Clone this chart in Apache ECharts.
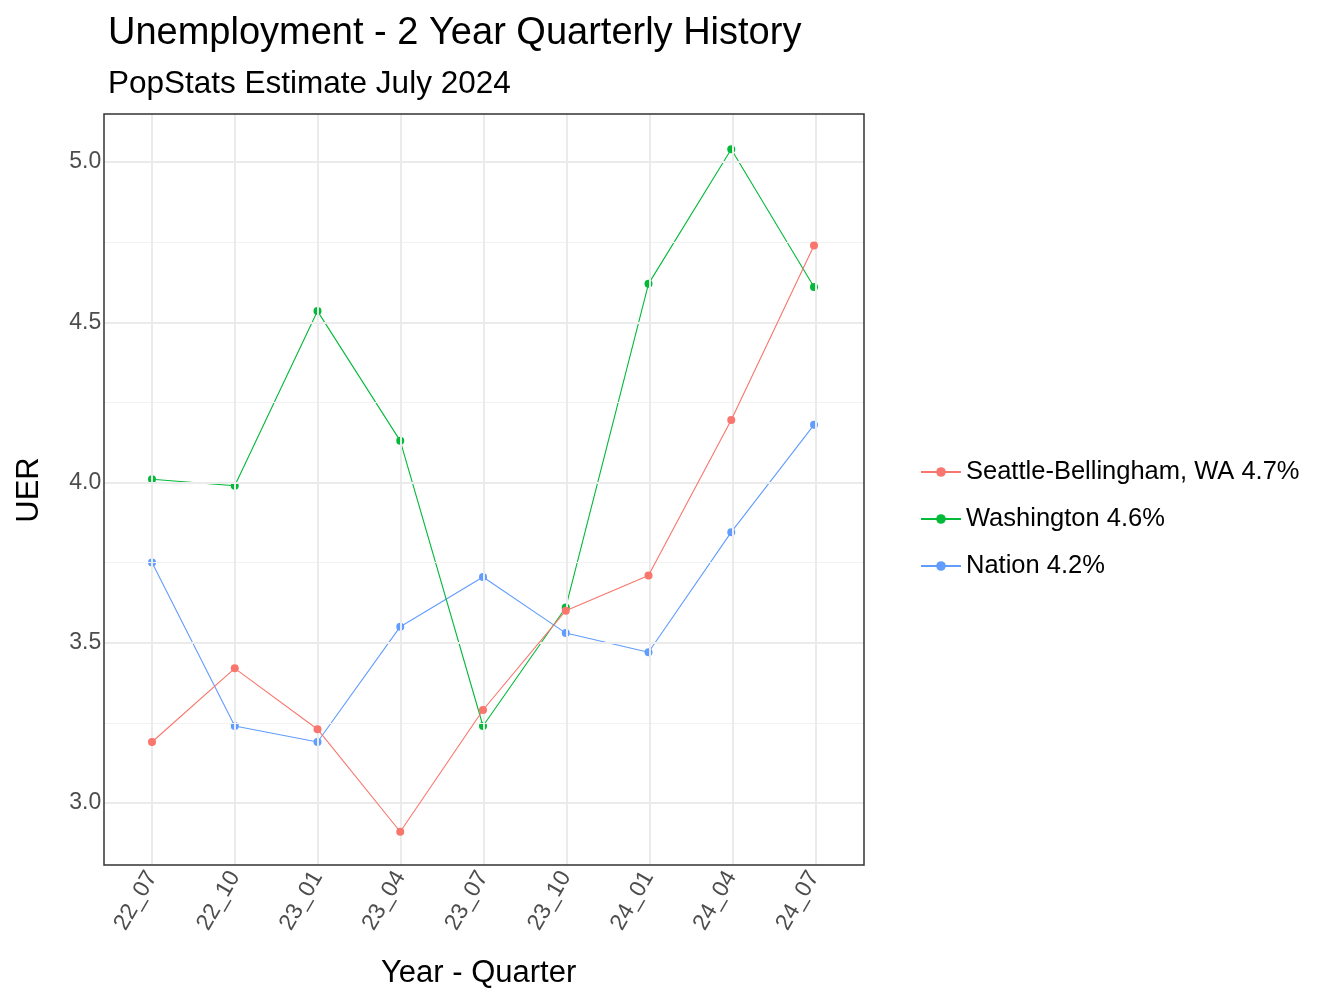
<!DOCTYPE html>
<html><head><meta charset="utf-8">
<script src="https://cdn.jsdelivr.net/npm/echarts@6/dist/echarts.min.js"></script>
<style>html,body{margin:0;padding:0;background:#fff}#c{width:1344px;height:1008px}</style>
</head><body><div id="c"></div>
<script>
const categories = ['22_07','22_10','23_01','23_04','23_07','23_10','24_01','24_04','24_07'];
const seattle = [3.19,3.42,3.23,2.91,3.29,3.60,3.71,4.195,4.74];
const washington = [4.01,3.99,4.535,4.13,3.24,3.61,4.62,5.04,4.61];
const nation = [3.75,3.24,3.19,3.55,3.705,3.53,3.47,3.845,4.18];
const names = ['Seattle-Bellingham, WA 4.7%','Washington 4.6%','Nation 4.2%'];
const majorY = [3.0,3.5,4.0,4.5,5.0];
const minorY = [3.25,3.75,4.25,4.75];
const colors = ['#F8766D','#00BA38','#619CFF'];
const F = 'Liberation Sans, Arial, sans-serif';
const chart = echarts.init(document.getElementById('c'));
const mk = (arr,i)=>({name:names[i],type:'line',data:arr.map((v,k)=>[k,v]),symbol:'circle',symbolSize:8,
  color:colors[i],lineStyle:{width:1.1,color:colors[i]},itemStyle:{color:colors[i]},z:5-i});
const gl = (w,c)=>({symbol:'none',silent:true,label:{show:false},lineStyle:{type:'solid',width:w,color:c}});
chart.setOption({
  animation:false,
  title:[{text:'Unemployment - 2 Year Quarterly History',left:103,top:10,textStyle:{fontFamily:F,fontSize:38,fontWeight:'normal',color:'#000'}},
         {text:'PopStats Estimate July 2024',left:103,top:63,textStyle:{fontFamily:F,fontSize:31.5,fontWeight:'normal',color:'#000'}}],
  grid:[{left:69.25,width:827.5,top:82,height:801},{left:104,width:760,top:114,height:751}],
  xAxis:[{type:'value',min:-1,max:9,interval:1,offset:-18,
    axisLine:{show:false},axisTick:{show:false},splitLine:{show:false},
    axisLabel:{fontFamily:F,fontSize:23,color:'#4d4d4d',rotate:60,margin:8,
      formatter:v=>(v>=0&&v<=8)?categories[v]:''}},
    {gridIndex:1,type:'value',min:-0.58,max:8.58,show:false,splitLine:{show:false}}],
  yAxis:[{type:'value',min:2.75,max:5.25,interval:0.25,offset:-40,
    axisLine:{show:false},axisTick:{show:false},splitLine:{show:false},
    axisLabel:{fontFamily:F,fontSize:23,color:'#4d4d4d',margin:8,
      formatter:v=>{const r=Math.round(v*100);return (r%50===0&&v>2.8&&v<5.2)?v.toFixed(1):'';}}},
    {gridIndex:1,type:'value',min:2.807,max:5.15,show:false,splitLine:{show:false}}],
  legend:{orient:'vertical',left:915,top:454,itemGap:21,itemWidth:40,itemHeight:12,
    textStyle:{fontFamily:F,fontSize:25.5,color:'#000'},data:names},
  series:[
    {type:'line',xAxisIndex:1,yAxisIndex:1,data:[],silent:true,z:1,
      markLine:Object.assign(gl(1,'#f2f2f2'),{data:minorY.map(v=>({yAxis:v}))})},
    {type:'line',xAxisIndex:1,yAxisIndex:1,data:[],silent:true,z:1,
      markLine:Object.assign(gl(2,'#ebebeb'),{data:majorY.map(v=>({yAxis:v})).concat(categories.map((c,k)=>({xAxis:k})))})},
    mk(seattle,0),mk(washington,1),mk(nation,2)],
  graphic:[
    {type:'rect',shape:{x:104,y:114,width:760,height:751},style:{fill:'none',stroke:'#333',lineWidth:1.5},z:100},
    {type:'text',left:381,top:958,style:{text:'Year - Quarter',font:'31px '+F,fill:'#000'}},
    {type:'text',x:29,y:490,rotation:Math.PI/2,style:{text:'UER',font:'31px '+F,fill:'#000',align:'center',verticalAlign:'middle'}}
  ]
});
</script></body></html>
